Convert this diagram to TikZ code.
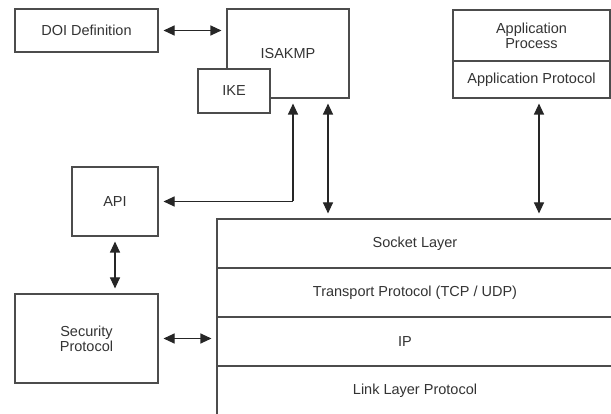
\documentclass[tikz,border=0pt]{standalone}
\usepackage{fontspec}
\setmainfont{Liberation Sans}
\usetikzlibrary{arrows.meta}
\begin{document}
\begin{tikzpicture}[x=1pt,y=-1pt,line width=1.1pt,
  box/.style={draw=black!70,fill=white,text=black!80,inner sep=0pt,align=center,font=\fontsize{14.5}{15}\selectfont},
  link/.style={draw=black!85,{Triangle[length=11pt,width=10pt]}-{Triangle[length=11pt,width=10pt]},shorten >=5pt,shorten <=5pt},
  onearrow/.style={draw=black!85,-{Triangle[length=11pt,width=10pt]},shorten >=5pt}]
\clip (0,0) rectangle (611,414);
\fill[white] (0,0) rectangle (611,414);
\node[box,minimum width=143,minimum height=43] (doi) at (86.5,30.5) {DOI Definition};
\node[box,minimum width=122,minimum height=89] (isakmp) at (288,53.5) {ISAKMP};
\node[box,minimum width=72,minimum height=44] (ike) at (234,91) {IKE};
\node[box,minimum width=157,minimum height=51] (appproc) at (531.5,35.5) {Application\\Process};
\node[box,minimum width=157,minimum height=37] (appprot) at (531.5,79.5) {Application Protocol};
\node[box,minimum width=86,minimum height=69] (api) at (115,201.5) {API};
\node[box,minimum width=143,minimum height=89] (sec) at (86.5,338.5) {Security\\Protocol};
\node[box,minimum width=404,minimum height=49] (sock) at (419,243.5) {\hspace*{-8pt}Socket Layer};
\node[box,minimum width=404,minimum height=49] (trans) at (419,292.5) {\hspace*{-8pt}Transport Protocol (TCP / UDP)};
\node[box,minimum width=404,minimum height=49] (ip) at (419,341.5) {\hspace*{-28pt}IP};
\node[box,minimum width=404,minimum height=49] (linkl) at (419,390.5) {\hspace*{-8pt}Link Layer Protocol};
\coordinate (bend) at (293,201.5);
\draw[link] (doi.east) -- (doi.east -| isakmp.west);
\draw[onearrow] (bend) -- (bend |- isakmp.south);
\draw[onearrow] (bend) -- (api.east);
\draw[link] (isakmp.south -| 328,0) -- (sock.north -| 328,0);
\draw[link] (appprot.south -| 539,0) -- (sock.north -| 539,0);
\draw[link] (api.south) -- (api.south |- sec.north);
\draw[link] (sec.east) -- (sec.east -| sock.west);
\end{tikzpicture}
\end{document}
